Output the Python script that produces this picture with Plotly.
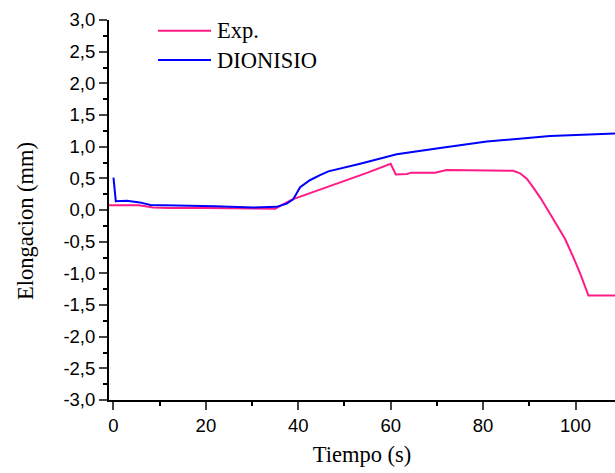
import plotly.graph_objects as go

# Exp. series (time s, elongation mm)
exp_t = [-1.0, 5.5, 8.6, 12, 20, 30, 35, 38.6, 40, 45, 50, 55, 60, 61.1, 63.5, 64.5, 69.6, 72.1, 78, 85.1, 86.5, 88,
         89.5, 90.8, 92.5, 94, 96.6, 97.7, 99.5, 101, 102.8, 108.6]
exp_y = [0.075, 0.075, 0.04, 0.03, 0.03, 0.025, 0.02, 0.165, 0.2, 0.33, 0.46, 0.59, 0.73, 0.56, 0.57, 0.59, 0.59,
         0.63, 0.63, 0.63, 0.62, 0.58, 0.49, 0.36, 0.18, 0.0, -0.32, -0.45, -0.74, -1.0, -1.35, -1.35]

# DIONISIO series
dio_t = [0.0, 0.5, 2.9, 5.7, 8.0, 15, 22, 30.2, 35.3, 37.5, 38.9, 40.4, 42.5, 44.7, 46.5, 53.4, 59.8, 61.3, 70.7,
         80.8, 94.5, 108.6]
dio_y = [0.51, 0.14, 0.145, 0.12, 0.08, 0.075, 0.06, 0.04, 0.05, 0.10, 0.17, 0.36, 0.47, 0.55, 0.61, 0.73, 0.85,
         0.88, 0.98, 1.08, 1.17, 1.21]

x_ticks = [0, 20, 40, 60, 80, 100]
y_ticks = [-3.0, -2.5, -2.0, -1.5, -1.0, -0.5, 0.0, 0.5, 1.0, 1.5, 2.0, 2.5, 3.0]
y_labels = [f"{v:.1f}".replace(".", ",") for v in y_ticks]

pink = "#FF1A85"
blue = "#0000FF"

fig = go.Figure()
fig.add_trace(go.Scatter(x=exp_t, y=exp_y, mode="lines", name="Exp.",
                         line=dict(color=pink, width=2), showlegend=False))
fig.add_trace(go.Scatter(x=dio_t, y=dio_y, mode="lines", name="DIONISIO",
                         line=dict(color=blue, width=2), showlegend=False))

# legend drawn manually
legend_items = [("Exp.", pink, 30.7), ("DIONISIO", blue, 60.0)]
H = 473
L, W = 109, 506
top, bottom = 20, 73
ph = H - top - bottom
for label, col, ypix in legend_items:
    yp = 1 - (ypix - top) / ph
    fig.add_shape(type="line", xref="paper", yref="paper",
                  x0=(158 - L) / W, x1=(211 - L) / W, y0=yp, y1=yp,
                  line=dict(color=col, width=2))
    fig.add_annotation(xref="paper", yref="paper", x=(215 - L) / W, y=yp,
                       text=label, showarrow=False, xanchor="left", yanchor="middle",
                       font=dict(family="Liberation Serif", size=22.5, color="black"))

# y-axis title as rotated text
fig.add_annotation(xref="paper", yref="paper", x=(25 - L) / W, y=1 - (221 - top) / ph,
                   text="Elongacion (mm)", textangle=-90, showarrow=False,
                   xanchor="center", yanchor="middle",
                   font=dict(family="Liberation Serif", size=22.5, color="black"))

fig.update_layout(
    width=615, height=473,
    margin=dict(l=L, r=0, t=top, b=bottom),
    plot_bgcolor="white", paper_bgcolor="white",
    font=dict(family="Liberation Sans", size=18.5, color="black"),
)
fig.update_xaxes(range=[-0.97, 108.55], tickvals=x_ticks, ticks="outside", ticklen=8, tickwidth=1.5,
                 showline=True, linecolor="black", linewidth=2, showgrid=False, zeroline=False,
                 minor=dict(dtick=10, tick0=0, ticks="outside", ticklen=4, tickwidth=1.5, tickcolor="black"),
                 title=dict(text="Tiempo (s)", font=dict(family="Liberation Serif", size=22.5), standoff=11))
fig.update_yaxes(range=[-3, 3], tickvals=y_ticks, ticktext=y_labels, ticks="outside", ticklen=8, tickwidth=1.5,
                 showline=True, linecolor="black", linewidth=2, showgrid=False, zeroline=False,
                 minor=dict(dtick=0.25, tick0=0, ticks="outside", ticklen=4, tickwidth=1.5, tickcolor="black"))

fig.write_html("out.html")
